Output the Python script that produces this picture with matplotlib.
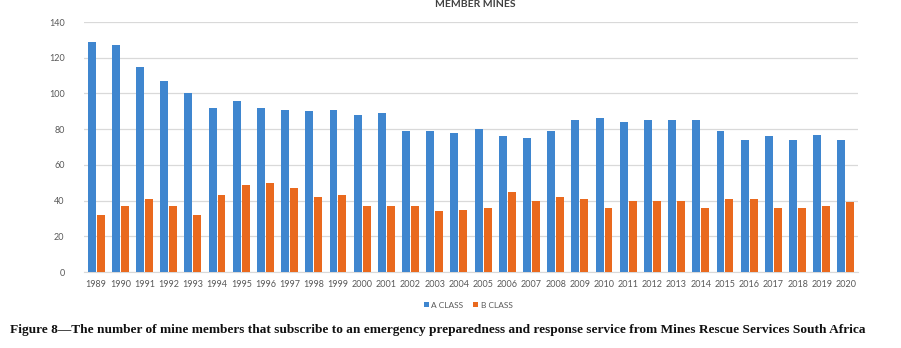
import matplotlib.pyplot as plt
import numpy as np

# data
years = [str(y) for y in range(1989, 2021)]
a_class = [129, 127, 115, 107, 100, 92, 96, 92, 91, 90, 91, 88, 89, 79, 79,
           78, 80, 76, 75, 79, 85, 86, 84, 85, 85, 85, 79, 74, 76, 74, 77, 74]
b_class = [32, 37, 41, 37, 32, 43, 49, 50, 47, 42, 43, 37, 37, 37, 34,
           35, 36, 45, 40, 42, 41, 36, 40, 40, 40, 36, 41, 41, 36, 36, 37, 39]
y_ticks = [0, 20, 40, 60, 80, 100, 120, 140]

blue = '#3f86cf'
orange = '#e9691e'
tick_col = '#595959'

fig = plt.figure(figsize=(9.01, 3.48), dpi=100)
ax = fig.add_axes([84 / 901, 76 / 348, 774 / 901, 250 / 348])

x = np.arange(len(years))
w = 0.33
ax.bar(x - w / 2 - 0.02, a_class, w, color=blue, label='A CLASS', zorder=3)
ax.bar(x + w / 2 + 0.02, b_class, w, color=orange, label='B CLASS', zorder=3)

ax.set_xlim(-0.5, len(years) - 0.5)
ax.set_ylim(0, 140)
ax.set_yticks(y_ticks)
ax.set_xticks(x)
ax.set_xticklabels(years)
ax.tick_params(axis='both', length=0, labelsize=6.5, colors=tick_col, pad=6)
ax.tick_params(axis='y', pad=14)
for lab in ax.get_xticklabels() + ax.get_yticklabels():
    lab.set_family('Lato')

ax.grid(axis='y', color='#d9d9d9', linewidth=0.9, zorder=0)
for s in ['top', 'right', 'left']:
    ax.spines[s].set_visible(False)
ax.spines['bottom'].set_color('#d9d9d9')

# title sits at the very top edge, as in the reference
fig.text(475 / 901, 1.0, 'MEMBER MINES', ha='center', va='top',
         fontsize=7.5, fontweight='bold', color='#404040', family='Lato')

leg = fig.legend(loc='center', bbox_to_anchor=(468 / 901, 1 - 305 / 348), ncol=2,
                 frameon=False, handlelength=0.6, handleheight=0.6,
                 handletextpad=0.3, columnspacing=1.2,
                 prop={'family': 'Lato', 'size': 6})
for t in leg.get_texts():
    t.set_color(tick_col)

fig.text(10 / 901, 1 - 330 / 348,
         'Figure 8\u2014The number of mine members that subscribe to an emergency '
         'preparedness and response service from Mines Rescue Services South Africa',
         ha='left', va='center', fontsize=9.6, fontweight='bold',
         family='Liberation Serif', color='#111111')

fig.savefig('out.png', dpi=100)
